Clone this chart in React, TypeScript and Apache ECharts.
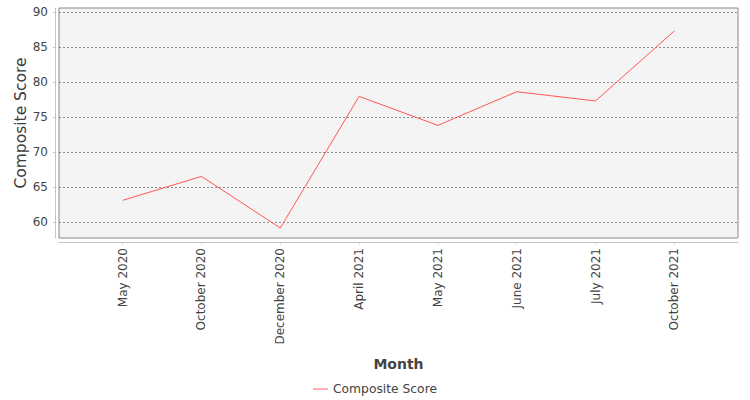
import React, { useEffect, useRef } from "react";
import * as echarts from "echarts";

const categories = [
  "May 2020",
  "October 2020",
  "December 2020",
  "April 2021",
  "May 2021",
  "June 2021",
  "July 2021",
  "October 2021",
];
const compositeScore = [63.09, 66.51, 59.14, 77.94, 73.8, 78.61, 77.29, 87.29];
const yTicks = [60, 65, 70, 75, 80, 85, 90];
const seriesName = "Composite Score";

const FONT = "DejaVu Sans";

export default function App() {
  const ref = useRef<HTMLDivElement>(null);
  useEffect(() => {
    if (!ref.current) return;
    const chart = echarts.init(ref.current, undefined, { renderer: "svg" });
    const xIdx = categories.map((_, i) => i);
    chart.setOption({
      animation: false,
      backgroundColor: "#ffffff",
      textStyle: { fontFamily: FONT },
      grid: {
        left: 59,
        top: 8,
        width: 679,
        height: 230,
        show: true,
        backgroundColor: "#f4f4f4",
        borderColor: "#888888",
        borderWidth: 1,
        containLabel: false,
      },
      legend: {
        bottom: 0,
        left: "center",
        itemWidth: 15,
        itemHeight: 8,
        itemGap: 4,
        textStyle: { fontFamily: FONT, fontSize: 12.3, color: "#444444" },
        data: [{ name: seriesName, icon: "path://M0,4L16,4L16,5L0,5Z" }],
      },
      xAxis: {
        type: "value",
        min: -0.808,
        max: 7.808,
        offset: 4,
        name: "Month",
        nameLocation: "middle",
        nameGap: 115,
        nameMoveOverlap: false,
        nameTextStyle: { fontFamily: FONT, fontSize: 14, fontWeight: "bold", color: "#444444" },
        axisLine: { show: true, onZero: false, lineStyle: { color: "#c4c4c4", width: 1 } },
        axisTick: { show: true, length: 2, customValues: xIdx, lineStyle: { color: "#c4c4c4" } },
        splitLine: { show: false },
        axisLabel: {
          customValues: xIdx,
          rotate: 90,
          margin: 6,
          fontFamily: FONT,
          fontSize: 12,
          color: "#444444",
          formatter: (v: number) => categories[Math.round(v)] ?? "",
        },
      },
      yAxis: {
        type: "value",
        min: 57.71,
        max: 90.57,
        offset: 4,
        name: "Composite Score",
        nameLocation: "middle",
        nameGap: 26,
        nameMoveOverlap: false,
        nameTextStyle: { fontFamily: FONT, fontSize: 15.5, fontWeight: "normal", color: "#3c3c3c" },
        axisLine: { show: true, onZero: false, lineStyle: { color: "#c4c4c4", width: 1 } },
        axisTick: { show: true, length: 2, customValues: yTicks, lineStyle: { color: "#c4c4c4" } },
        splitLine: {
          show: true,
          lineStyle: { color: "#707070", width: 0.8, type: [2, 2] },
        },
        axisLabel: {
          customValues: yTicks,
          margin: 7,
          fontFamily: FONT,
          fontSize: 12,
          color: "#444444",
        },
      },
      series: [
        {
          name: seriesName,
          type: "line",
          data: compositeScore.map((v, i) => [i, v]),
          symbol: "none",
          lineStyle: { color: "#ff5555", width: 1 },
          itemStyle: { color: "#ff5555" },
        },
      ],
    });
    return () => chart.dispose();
  }, []);
  return (
    <div
      ref={ref}
      style={{ position: "fixed", left: 0, top: 0, width: 750, height: 400 }}
    />
  );
}
